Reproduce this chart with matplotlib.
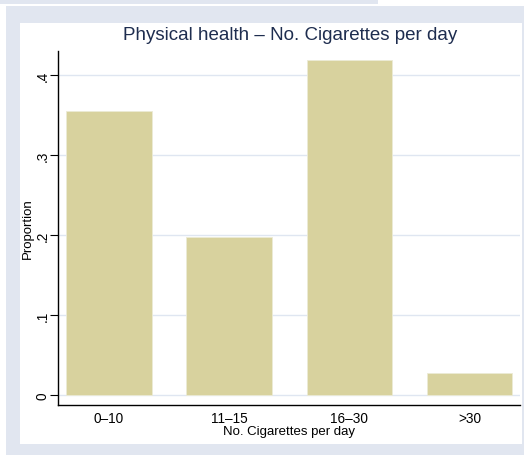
import matplotlib
matplotlib.use("Agg")
import matplotlib.pyplot as plt
from matplotlib.patches import Rectangle

categories = ["0\u201310", "11\u201315", "16\u201330", ">30"]
proportion = [0.355, 0.198, 0.419, 0.028]
yticks = [0, 0.1, 0.2, 0.3, 0.4]
ytick_labels = ["0", ".1", ".2", ".3", ".4"]

plt.rcParams['font.family'] = ['Liberation Sans', 'DejaVu Sans']

W, H = 524, 456
fig = plt.figure(figsize=(W / 100, H / 100), dpi=100)
fig.patch.set_facecolor("white")

panel = "#e1e6f0"
# background panels (pixel coords converted to figure fractions)
def px_rect(x0, y0, x1, y1, color):
    fig.patches.append(Rectangle((x0 / W, 1 - y1 / H), (x1 - x0) / W, (y1 - y0) / H,
                                 transform=fig.transFigure, facecolor=color,
                                 edgecolor="none", zorder=-10))

px_rect(0, 0, 378, 5, panel)
px_rect(6, 7, W, H, panel)
px_rect(20, 24, 521.5, 445, "white")

ax = fig.add_axes([58 / W, 1 - 406 / H, (520 - 58) / W, (406 - 52) / H])
ax.set_facecolor("none")
ax.set_zorder(5)

x = range(len(categories))
ax.bar(x, proportion, width=0.712, color="#d8d29e", edgecolor="#ecebd6",
       linewidth=0.6, zorder=3)

ax.set_xlim(-0.424, 3.419)
ax.set_ylim(-0.0125, 0.43)
ax.set_yticks(yticks)
ax.set_yticklabels(ytick_labels, rotation=90, va="center", fontsize=9.8)
ax.set_xticks(list(x))
ax.set_xticklabels(categories, fontsize=9.8)
ax.tick_params(axis="x", length=0, pad=4)
ax.tick_params(axis="y", length=6, width=0.8, pad=0)
ax.grid(axis="y", color="#dfe6f1", linewidth=1.0, zorder=0)

for side in ["top", "right"]:
    ax.spines[side].set_visible(False)
for side in ["left", "bottom"]:
    ax.spines[side].set_linewidth(1.0)
    ax.spines[side].set_color("black")

ax.set_ylabel("Proportion", fontsize=9.5)
ax.yaxis.set_label_coords(-0.052, 0.5)
ax.set_xlabel("No. Cigarettes per day", fontsize=9.5, labelpad=0)

fig.text(290 / W, 1 - 36 / H, "Physical health \u2013 No. Cigarettes per day",
         ha="center", va="center", fontsize=13.5, color="#1e2d4f", zorder=6)

fig.savefig("out.png", dpi=100)
